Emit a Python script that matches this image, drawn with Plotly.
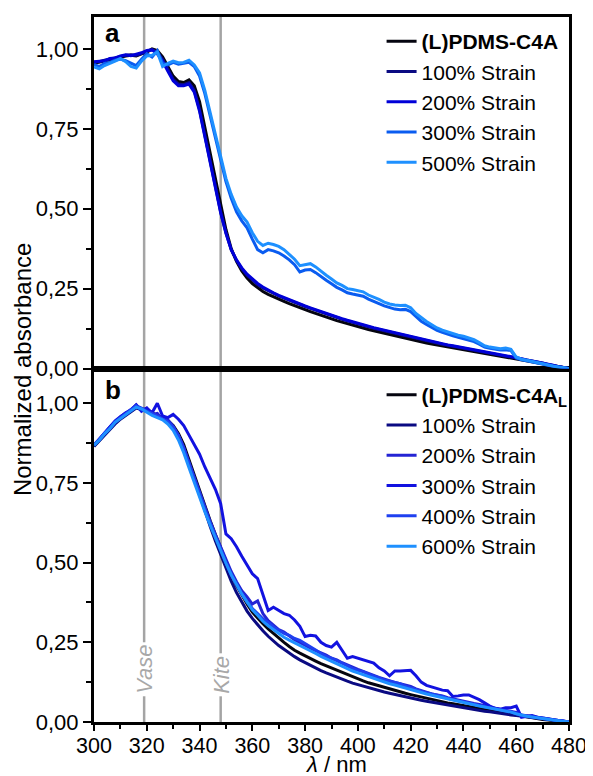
import plotly.graph_objects as go

wavelength = list(range(300, 481, 2))

# Panel a
a_pdms = [0.955, 0.958, 0.962, 0.966, 0.970, 0.975, 0.978, 0.980, 0.978, 0.985,
          0.990, 1.000, 0.995, 0.975, 0.945, 0.915, 0.898, 0.895, 0.903, 0.885,
          0.835, 0.755, 0.665, 0.585, 0.505, 0.435, 0.375, 0.335, 0.305, 0.283,
          0.266, 0.252, 0.241, 0.232, 0.224, 0.217, 0.210, 0.203, 0.196, 0.190,
          0.184, 0.178, 0.172, 0.166, 0.160, 0.155, 0.150, 0.145, 0.140, 0.135,
          0.130, 0.126, 0.122, 0.118, 0.114, 0.110, 0.106, 0.102, 0.098, 0.094,
          0.090, 0.087, 0.084, 0.080, 0.077, 0.074, 0.071, 0.068, 0.065, 0.062,
          0.059, 0.056, 0.053, 0.050, 0.047, 0.044, 0.041, 0.038, 0.035, 0.032,
          0.029, 0.026, 0.023, 0.020, 0.017, 0.014, 0.011, 0.008, 0.005, 0.002,
          0.000]
a_100 = [0.958, 0.960, 0.965, 0.968, 0.972, 0.976, 0.980, 0.982, 0.980, 0.987,
         0.992, 0.998, 0.990, 0.968, 0.935, 0.905, 0.890, 0.888, 0.895, 0.870,
         0.810, 0.730, 0.645, 0.565, 0.490, 0.425, 0.372, 0.338, 0.312, 0.292,
         0.276, 0.263, 0.252, 0.243, 0.235, 0.227, 0.220, 0.213, 0.206, 0.200,
         0.194, 0.188, 0.182, 0.176, 0.170, 0.165, 0.159, 0.154, 0.149, 0.144,
         0.139, 0.135, 0.130, 0.126, 0.122, 0.118, 0.114, 0.110, 0.106, 0.102,
         0.098, 0.094, 0.090, 0.087, 0.083, 0.080, 0.076, 0.073, 0.070, 0.067,
         0.064, 0.061, 0.058, 0.055, 0.052, 0.049, 0.046, 0.043, 0.040, 0.037,
         0.034, 0.030, 0.027, 0.024, 0.020, 0.017, 0.013, 0.010, 0.006, 0.003,
         0.000]
a_200 = [0.960, 0.962, 0.963, 0.970, 0.972, 0.978, 0.982, 0.979, 0.983, 0.988,
         0.995, 0.997, 0.985, 0.962, 0.930, 0.900, 0.885, 0.885, 0.890, 0.865,
         0.805, 0.725, 0.640, 0.560, 0.487, 0.423, 0.372, 0.340, 0.315, 0.295,
         0.279, 0.266, 0.255, 0.245, 0.237, 0.229, 0.222, 0.215, 0.208, 0.202,
         0.196, 0.190, 0.184, 0.178, 0.172, 0.167, 0.161, 0.156, 0.151, 0.146,
         0.141, 0.137, 0.132, 0.128, 0.124, 0.120, 0.116, 0.112, 0.108, 0.104,
         0.100, 0.096, 0.092, 0.088, 0.085, 0.081, 0.078, 0.074, 0.071, 0.068,
         0.065, 0.062, 0.059, 0.056, 0.053, 0.050, 0.047, 0.044, 0.041, 0.038,
         0.034, 0.031, 0.027, 0.024, 0.020, 0.017, 0.013, 0.010, 0.006, 0.003,
         0.000]
a_300 = [0.952, 0.945, 0.955, 0.958, 0.965, 0.968, 0.963, 0.955, 0.948, 0.968,
         0.985, 0.975, 0.995, 0.955, 0.950, 0.958, 0.952, 0.955, 0.958, 0.945,
         0.915, 0.860, 0.790, 0.718, 0.648, 0.585, 0.533, 0.490, 0.462, 0.440,
         0.405, 0.372, 0.362, 0.372, 0.368, 0.362, 0.352, 0.340, 0.325, 0.302,
         0.308, 0.310, 0.300, 0.287, 0.276, 0.265, 0.254, 0.246, 0.237, 0.233,
         0.230, 0.226, 0.217, 0.211, 0.203, 0.196, 0.190, 0.186, 0.184, 0.185,
         0.178, 0.162, 0.148, 0.138, 0.128, 0.119, 0.113, 0.107, 0.102, 0.098,
         0.094, 0.089, 0.084, 0.076, 0.067, 0.063, 0.061, 0.058, 0.059, 0.056,
         0.033, 0.027, 0.024, 0.020, 0.016, 0.013, 0.010, 0.007, 0.004, 0.002,
         0.000]
a_500 = [0.944, 0.938, 0.948, 0.954, 0.962, 0.970, 0.960, 0.945, 0.940, 0.962,
         0.978, 0.980, 0.990, 0.945, 0.955, 0.962, 0.957, 0.958, 0.965, 0.950,
         0.925, 0.870, 0.800, 0.730, 0.660, 0.595, 0.545, 0.505, 0.478, 0.458,
         0.425, 0.398, 0.385, 0.392, 0.388, 0.382, 0.372, 0.358, 0.342, 0.322,
         0.325, 0.328, 0.318, 0.304, 0.292, 0.280, 0.268, 0.260, 0.250, 0.247,
         0.244, 0.240, 0.230, 0.224, 0.216, 0.208, 0.202, 0.199, 0.197, 0.198,
         0.190, 0.172, 0.158, 0.147, 0.137, 0.127, 0.120, 0.114, 0.109, 0.104,
         0.101, 0.095, 0.090, 0.081, 0.071, 0.067, 0.065, 0.062, 0.064, 0.060,
         0.036, 0.029, 0.026, 0.022, 0.018, 0.014, 0.010, 0.008, 0.005, 0.002,
         0.000]

# Panel b
b_pdms = [0.866, 0.885, 0.904, 0.920, 0.938, 0.953, 0.966, 0.975, 0.990, 0.983,
          0.978, 0.970, 0.962, 0.955, 0.945, 0.930, 0.905, 0.870, 0.822, 0.772,
          0.722, 0.676, 0.632, 0.588, 0.545, 0.503, 0.463, 0.428, 0.398, 0.370,
          0.345, 0.326, 0.308, 0.292, 0.277, 0.263, 0.250, 0.237, 0.225, 0.216,
          0.207, 0.199, 0.191, 0.183, 0.176, 0.169, 0.162, 0.155, 0.148, 0.141,
          0.135, 0.129, 0.123, 0.118, 0.113, 0.108, 0.103, 0.098, 0.094, 0.090,
          0.086, 0.082, 0.078, 0.074, 0.070, 0.066, 0.063, 0.060, 0.057, 0.054,
          0.051, 0.048, 0.045, 0.042, 0.039, 0.036, 0.033, 0.031, 0.028, 0.026,
          0.023, 0.020, 0.017, 0.014, 0.011, 0.008, 0.006, 0.004, 0.002, 0.001,
          0.000]
b_100 = [0.864, 0.882, 0.900, 0.918, 0.935, 0.950, 0.962, 0.972, 0.985, 0.980,
         0.975, 0.968, 0.960, 0.952, 0.942, 0.926, 0.900, 0.862, 0.812, 0.760,
         0.708, 0.660, 0.614, 0.568, 0.524, 0.482, 0.442, 0.406, 0.375, 0.348,
         0.325, 0.304, 0.286, 0.269, 0.254, 0.240, 0.228, 0.216, 0.205, 0.195,
         0.186, 0.177, 0.169, 0.161, 0.154, 0.147, 0.140, 0.134, 0.128, 0.122,
         0.117, 0.112, 0.107, 0.102, 0.098, 0.094, 0.090, 0.086, 0.082, 0.078,
         0.075, 0.071, 0.068, 0.065, 0.062, 0.059, 0.056, 0.053, 0.050, 0.047,
         0.044, 0.042, 0.039, 0.037, 0.034, 0.032, 0.029, 0.027, 0.025, 0.022,
         0.020, 0.018, 0.015, 0.013, 0.011, 0.009, 0.007, 0.005, 0.003, 0.001,
         0.000]
b_200 = [0.868, 0.888, 0.908, 0.925, 0.940, 0.957, 0.970, 0.978, 0.995, 0.978,
         0.985, 0.965, 0.968, 0.950, 0.948, 0.928, 0.900, 0.862, 0.815, 0.768,
         0.720, 0.675, 0.630, 0.588, 0.548, 0.510, 0.472, 0.440, 0.412, 0.392,
         0.370, 0.380, 0.340, 0.318, 0.305, 0.290, 0.282, 0.270, 0.258, 0.250,
         0.240, 0.232, 0.224, 0.217, 0.210, 0.200, 0.195, 0.186, 0.178, 0.172,
         0.165, 0.158, 0.152, 0.146, 0.140, 0.134, 0.128, 0.124, 0.120, 0.116,
         0.112, 0.104, 0.098, 0.094, 0.088, 0.085, 0.082, 0.076, 0.072, 0.070,
         0.066, 0.062, 0.058, 0.055, 0.050, 0.047, 0.043, 0.040, 0.037, 0.035,
         0.030, 0.022, 0.020, 0.018, 0.015, 0.012, 0.010, 0.007, 0.004, 0.002,
         0.000]
b_300 = [0.868, 0.888, 0.908, 0.925, 0.945, 0.958, 0.970, 0.980, 0.995, 0.975,
         0.985, 0.970, 1.000, 0.960, 0.955, 0.965, 0.950, 0.930, 0.900, 0.870,
         0.840, 0.800, 0.765, 0.730, 0.685, 0.590, 0.575, 0.550, 0.520, 0.492,
         0.465, 0.450, 0.400, 0.350, 0.360, 0.350, 0.340, 0.335, 0.320, 0.300,
         0.268, 0.272, 0.270, 0.250, 0.240, 0.235, 0.250, 0.225, 0.200, 0.205,
         0.200, 0.195, 0.190, 0.185, 0.170, 0.160, 0.145, 0.160, 0.160, 0.160,
         0.162, 0.145, 0.125, 0.115, 0.110, 0.105, 0.100, 0.098, 0.080, 0.082,
         0.085, 0.085, 0.078, 0.070, 0.060, 0.050, 0.043, 0.040, 0.045, 0.045,
         0.050, 0.015, 0.018, 0.020, 0.015, 0.012, 0.010, 0.008, 0.005, 0.003,
         0.000]
b_400 = [0.870, 0.886, 0.906, 0.922, 0.942, 0.955, 0.968, 0.980, 0.992, 0.985,
         0.975, 0.968, 0.960, 0.952, 0.942, 0.925, 0.898, 0.858, 0.810, 0.760,
         0.712, 0.668, 0.625, 0.582, 0.540, 0.500, 0.462, 0.430, 0.402, 0.378,
         0.356, 0.340, 0.324, 0.312, 0.298, 0.288, 0.278, 0.272, 0.262, 0.256,
         0.246, 0.238, 0.226, 0.215, 0.206, 0.200, 0.192, 0.183, 0.176, 0.168,
         0.162, 0.158, 0.150, 0.143, 0.138, 0.132, 0.128, 0.126, 0.120, 0.112,
         0.108, 0.102, 0.096, 0.092, 0.090, 0.085, 0.080, 0.074, 0.070, 0.066,
         0.064, 0.060, 0.055, 0.052, 0.048, 0.045, 0.042, 0.040, 0.036, 0.032,
         0.026, 0.020, 0.018, 0.016, 0.013, 0.011, 0.008, 0.006, 0.004, 0.002,
         0.000]
b_600 = [0.868, 0.884, 0.904, 0.920, 0.940, 0.952, 0.965, 0.976, 0.988, 0.982,
         0.972, 0.962, 0.955, 0.948, 0.935, 0.915, 0.885, 0.845, 0.798, 0.750,
         0.704, 0.660, 0.618, 0.576, 0.536, 0.498, 0.462, 0.430, 0.402, 0.376,
         0.352, 0.335, 0.316, 0.302, 0.290, 0.278, 0.266, 0.257, 0.249, 0.240,
         0.232, 0.224, 0.215, 0.206, 0.198, 0.190, 0.182, 0.175, 0.168, 0.160,
         0.154, 0.148, 0.142, 0.136, 0.131, 0.126, 0.120, 0.116, 0.111, 0.106,
         0.102, 0.097, 0.092, 0.088, 0.084, 0.080, 0.076, 0.072, 0.068, 0.064,
         0.061, 0.057, 0.054, 0.050, 0.047, 0.044, 0.041, 0.038, 0.035, 0.031,
         0.026, 0.021, 0.018, 0.016, 0.013, 0.010, 0.008, 0.006, 0.004, 0.002,
         0.000]

panel_a_names = ["<b>(L)PDMS-C4A</b>", "100% Strain", "200% Strain", "300% Strain", "500% Strain"]
panel_a_colors = ["#05050f", "#0a0a82", "#0000d8", "#0a5cf0", "#1e90ff"]
panel_a_series = [a_pdms, a_100, a_200, a_300, a_500]

panel_b_names = ["<b>(L)PDMS-C4A<sub>L</sub></b>", "100% Strain", "200% Strain",
                 "300% Strain", "400% Strain", "600% Strain"]
panel_b_colors = ["#05050f", "#0a0a82", "#2424d4", "#1212e0", "#1f40f0", "#1e90ff"]
panel_b_series = [b_pdms, b_100, b_200, b_300, b_400, b_600]

marker_wavelengths = [319, 348]
marker_labels = ["Vase", "Kite"]

FONT = "Arial, Liberation Sans, sans-serif"
fig = go.Figure()

for name, col, ys in zip(panel_a_names, panel_a_colors, panel_a_series):
    fig.add_trace(go.Scatter(x=wavelength, y=ys, mode="lines", name=name,
                             line=dict(color=col, width=3),
                             xaxis="x2", yaxis="y2", legend="legend"))
for name, col, ys in zip(panel_b_names, panel_b_colors, panel_b_series):
    fig.add_trace(go.Scatter(x=wavelength, y=ys, mode="lines", name=name,
                             line=dict(color=col, width=3),
                             xaxis="x", yaxis="y", legend="legend2"))

# plot area in page pixels: x 94..573, y 14..722 (page body has an 8px margin)
PL, PR, PT, PB = 94, 573, 14, 722
PW, PH = PR - PL, PB - PT
split = (PB - 367) / PH


def px_x(px):
    return (px - PL) / PW


def px_y(py):
    return (PB - py) / PH


yax = dict(tickformat=".2f", dtick=0.25, tick0=0, ticks="outside", ticklen=8, tickwidth=2,
           tickcolor="black", minor=dict(dtick=0.125, tick0=0, ticks="outside", ticklen=5,
                                         tickwidth=2, tickcolor="black"),
           showline=True, linewidth=3, linecolor="black", mirror=True,
           showgrid=False, zeroline=False, tickfont=dict(size=22, color="black"))

legend_font = dict(size=21, color="black", family=FONT)

fig.update_layout(
    width=585, height=768,
    margin=dict(l=86, r=20, t=6, b=54),
    paper_bgcolor="white", plot_bgcolor="rgba(0,0,0,0)",
    separators=",.",
    font=dict(family=FONT, color="black"),
    xaxis=dict(domain=[0, 1], anchor="y", range=[300, 480], dtick=20, tick0=300,
               ticks="outside", ticklen=6, tickwidth=2, tickcolor="black",
               ticklabelstandoff=-4,
               minor=dict(dtick=10, tick0=300, ticks="outside", ticklen=4, tickwidth=2,
                          tickcolor="black"),
               showline=True, linewidth=3, linecolor="black", mirror=True,
               showgrid=False, zeroline=False, tickfont=dict(size=21.5, color="black")),
    xaxis2=dict(domain=[0, 1], anchor="y2", matches="x", range=[300, 480],
                showticklabels=False, ticks="", showline=True, linewidth=3,
                linecolor="black", mirror=True, showgrid=False, zeroline=False),
    yaxis=dict(domain=[0, split], range=[0, 1.109], anchor="x", **yax),
    yaxis2=dict(domain=[split, 1], range=[0, 1.1], anchor="x2", **yax),
    legend=dict(x=px_x(384), y=px_y(18), xanchor="left", yanchor="top",
                bgcolor="rgba(0,0,0,0)", font=legend_font),
    legend2=dict(x=px_x(384), y=px_y(373), xanchor="left", yanchor="top",
                 bgcolor="rgba(0,0,0,0)", font=legend_font),
    showlegend=True,
)

for wl in marker_wavelengths:
    fig.add_shape(type="line", xref="x", yref="paper", x0=wl, x1=wl, y0=0, y1=1,
                  line=dict(color="#a4a4a4", width=2.5), layer="below")

for wl, lab in zip(marker_wavelengths, marker_labels):
    fig.add_annotation(x=wl, y=0.078, xref="x", yref="y", text="<i>" + lab + "</i>",
                       textangle=-90, showarrow=False, xanchor="center", yanchor="bottom",
                       bgcolor="white", borderpad=2,
                       font=dict(size=22, color="#a8a8a8", family=FONT))

fig.add_annotation(x=px_x(103), y=px_y(30), xref="paper", yref="paper",
                   text="<b>a</b>", showarrow=False, xanchor="left", yanchor="middle",
                   font=dict(size=26, color="black", family=FONT))
fig.add_annotation(x=px_x(103), y=px_y(389), xref="paper", yref="paper",
                   text="<b>b</b>", showarrow=False, xanchor="left", yanchor="middle",
                   font=dict(size=26, color="black", family=FONT))
fig.add_annotation(x=px_x(22), y=0.5, xref="paper", yref="paper",
                   text="Normalized absorbance", textangle=-90, showarrow=False,
                   xanchor="center", yanchor="middle",
                   font=dict(size=24, color="black", family=FONT))
fig.add_annotation(x=px_x(339), y=px_y(765), xref="paper", yref="paper",
                   text="<i>λ</i> / nm", showarrow=False, xanchor="center", yanchor="middle",
                   font=dict(size=22, color="black", family=FONT), borderpad=0)

fig.write_html("out.html")
